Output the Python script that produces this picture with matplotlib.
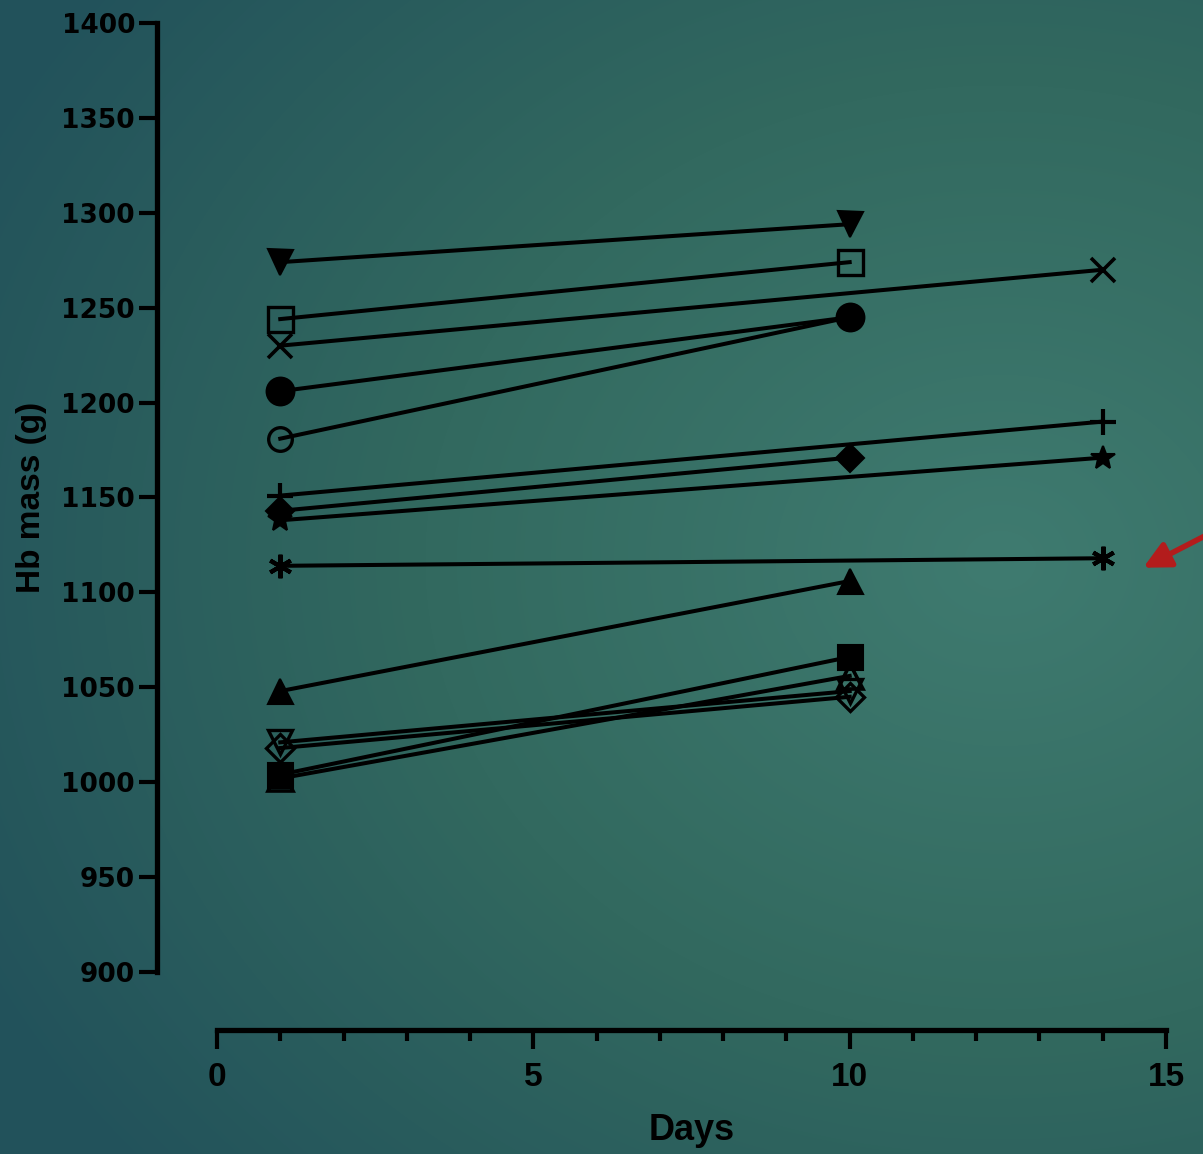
import numpy as np
import matplotlib
matplotlib.use("Agg")
import matplotlib.pyplot as plt
from matplotlib.colors import LinearSegmentedColormap

# Hb mass per subject, measured on day 1 and again on day 10 or day 14
days = [[1, 10], [1, 10], [1, 14], [1, 10], [1, 10],
        [1, 14], [1, 10], [1, 14], [1, 14], [1, 10],
        [1, 10], [1, 10], [1, 10], [1, 10]]
hb_mass = [[1274, 1294], [1244, 1274], [1230, 1270], [1206, 1245], [1181, 1245],
           [1151, 1190], [1143, 1171], [1138, 1171], [1114, 1118], [1048, 1106],
           [1002, 1056], [1004, 1066], [1021, 1048], [1018, 1045]]
symbols = ['v', 's', 'x', 'o', 'o',
           '+', 'D', '*', (6, 2, 0), '^',
           '^', 's', 'v', 'D']
filled = [True, False, False, True, False,
          True, True, True, True, True,
          False, True, False, False]
sizes = [18, 18, 17, 20, 17,
         19, 14, 18, 17, 18,
         18, 18, 17, 14]
edge_w = [1.5, 2.4, 2.6, 1.5, 2.4,
          3.0, 1.5, 1.5, 3.0, 1.5,
          2.6, 1.5, 2.4, 2.4]

y_ticks = list(range(900, 1401, 50))
x_ticks = [0, 5, 10, 15]

W, H = 1203, 1154
fig = plt.figure(figsize=(W / 100, H / 100), dpi=100)

# teal radial background
bg_ax = fig.add_axes([0, 0, 1, 1], zorder=-10)
yy, xx = np.mgrid[0:H, 0:W]
r = np.sqrt(((xx - 1000) / 1150.0) ** 2 + ((yy - 560) / 950.0) ** 2)
r = np.clip(r, 0, 1)
cmap = LinearSegmentedColormap.from_list("bg", ["#3f7b70", "#32695f", "#22525b"])
bg_ax.imshow(r, cmap=cmap, aspect='auto', extent=[0, 1, 0, 1], vmin=0, vmax=1)
bg_ax.axis('off')

ax = fig.add_axes([217 / W, 1 - 972 / H, (1166 - 217) / W, (972 - 23) / H])
ax.patch.set_alpha(0)

for d, m, sym, f, ms, ew in zip(days, hb_mass, symbols, filled, sizes, edge_w):
    ax.plot(d, m, color='black', lw=2.9, zorder=2, clip_on=False)
    ax.plot(d, m, linestyle='none', marker=sym, markersize=ms,
            markerfacecolor='black' if f else 'none',
            markeredgecolor='black', markeredgewidth=ew,
            zorder=3, clip_on=False)

ax.set_xlim(0, 15)
ax.set_ylim(900, 1400)
ax.set_xticks(x_ticks)
ax.set_xticks(range(0, 16), minor=True)
ax.set_yticks(y_ticks)

for s in ['top', 'right']:
    ax.spines[s].set_visible(False)
ax.spines['left'].set_position(('outward', 43))
ax.spines['bottom'].set_position(('outward', 42))
ax.spines['left'].set_linewidth(3.8)
ax.spines['bottom'].set_linewidth(3.8)

ax.tick_params(axis='y', which='major', length=13, width=3, pad=3,
               labelsize=19)
ax.tick_params(axis='x', which='major', length=14, width=3, pad=9,
               labelsize=24)
ax.tick_params(axis='x', which='minor', length=8, width=3)
for lab in ax.get_yticklabels():
    lab.set_fontweight('bold')
    lab.set_family('DejaVu Sans')
for lab in ax.get_xticklabels():
    lab.set_fontweight('bold')
    lab.set_family('Liberation Sans')

ax.set_xlabel('Days', fontsize=26, fontweight='bold', family='Liberation Sans',
              labelpad=14)
ax.set_ylabel('Hb mass (g)', fontsize=24, fontweight='bold',
              family='Liberation Sans', labelpad=10)

# red arrow pointing at the asterisk subject
ax.annotate('', xy=(14.64, 1113), xytext=(15.6, 1129.5),
            arrowprops=dict(arrowstyle='-|>,head_length=1.6,head_width=0.8',
                            color='#b31c1c', lw=4, shrinkA=0, shrinkB=0),
            annotation_clip=False)

fig.savefig('out.png', dpi=100)
